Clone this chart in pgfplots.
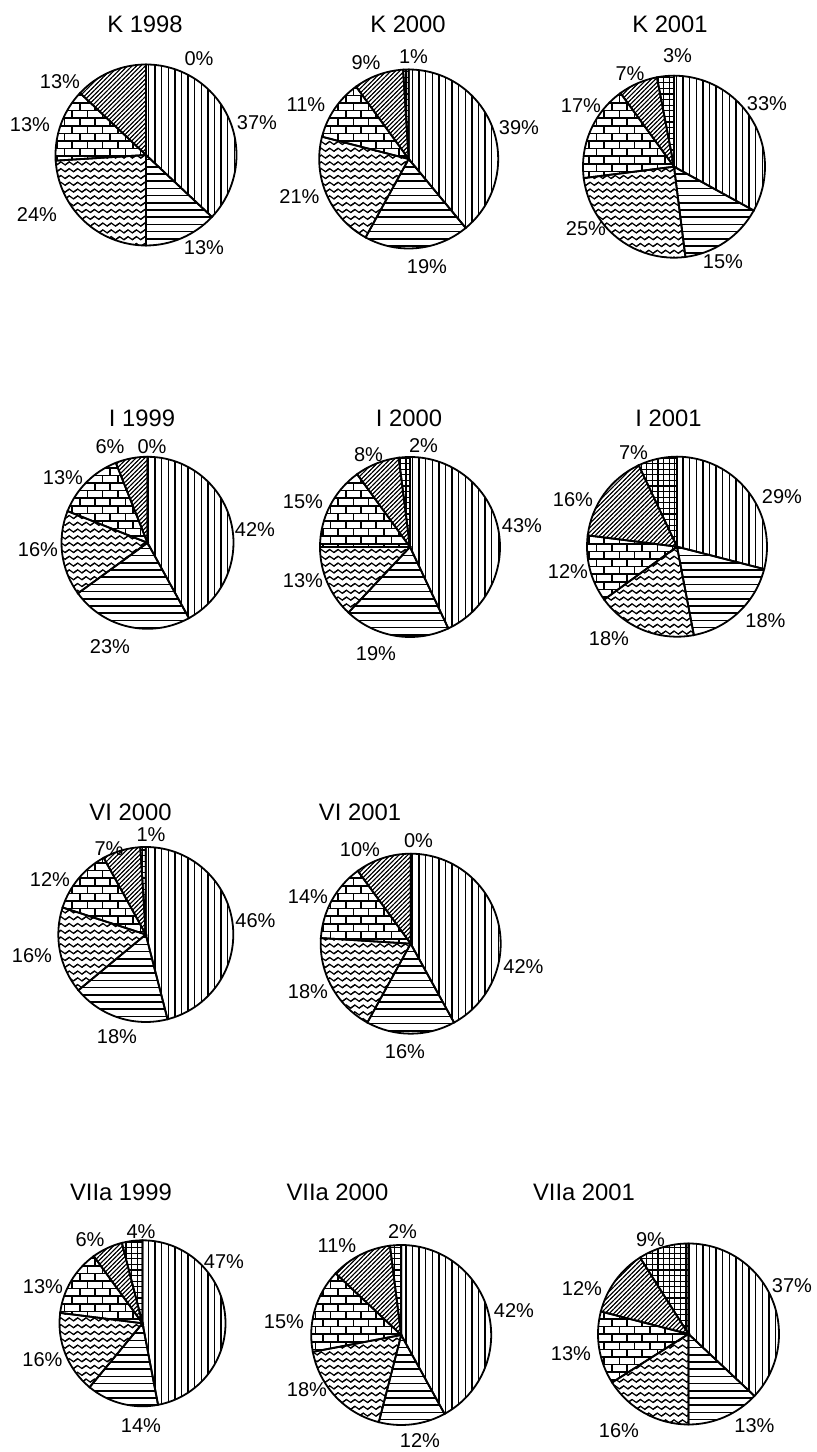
\documentclass[border=0pt]{standalone}
\usepackage{fontspec}
\setmainfont{Liberation Sans}
\usepackage{pgfplots}
\usepackage{pgfplotstable}
\pgfplotsset{compat=1.18}
\usetikzlibrary{patterns}

% ---------- patterns (bounding boxes overlap the tiles to avoid seams) ----------
\pgfdeclarepatternformonly{pv}{\pgfpoint{0pt}{-1pt}}{\pgfpoint{3.3pt}{4.3pt}}{\pgfpoint{3.3pt}{3.3pt}}{%
  \pgfsetlinewidth{0.75pt}\pgfpathmoveto{\pgfpoint{1.65pt}{-1pt}}\pgfpathlineto{\pgfpoint{1.65pt}{4.3pt}}\pgfusepath{stroke}}
\pgfdeclarepatternformonly{ph}{\pgfpoint{-1pt}{0pt}}{\pgfpoint{4.6pt}{3.6pt}}{\pgfpoint{3.6pt}{3.6pt}}{%
  \pgfsetlinewidth{0.8pt}\pgfpathmoveto{\pgfpoint{-1pt}{1.8pt}}\pgfpathlineto{\pgfpoint{4.6pt}{1.8pt}}\pgfusepath{stroke}}
\pgfdeclarepatternformonly{pw}{\pgfpoint{-1.05pt}{0pt}}{\pgfpoint{5.25pt}{3.4pt}}{\pgfpoint{4.2pt}{3.4pt}}{%
  \pgfsetlinewidth{0.6pt}%
  \pgfpathmoveto{\pgfpoint{-4.2pt}{1.7pt}}%
  \pgfpathsine{\pgfpoint{1.05pt}{0.75pt}}\pgfpathcosine{\pgfpoint{1.05pt}{-0.75pt}}%
  \pgfpathsine{\pgfpoint{1.05pt}{-0.75pt}}\pgfpathcosine{\pgfpoint{1.05pt}{0.75pt}}%
  \pgfpathsine{\pgfpoint{1.05pt}{0.75pt}}\pgfpathcosine{\pgfpoint{1.05pt}{-0.75pt}}%
  \pgfpathsine{\pgfpoint{1.05pt}{-0.75pt}}\pgfpathcosine{\pgfpoint{1.05pt}{0.75pt}}%
  \pgfpathsine{\pgfpoint{1.05pt}{0.75pt}}\pgfpathcosine{\pgfpoint{1.05pt}{-0.75pt}}%
  \pgfpathsine{\pgfpoint{1.05pt}{-0.75pt}}\pgfpathcosine{\pgfpoint{1.05pt}{0.75pt}}%
  \pgfusepath{stroke}}
\pgfdeclarepatternformonly{pb}{\pgfpoint{-1pt}{-1pt}}{\pgfpoint{8.6pt}{8.6pt}}{\pgfpoint{7.6pt}{7.6pt}}{%
  \pgfsetlinewidth{0.8pt}%
  \pgfpathmoveto{\pgfpoint{-1pt}{1.9pt}}\pgfpathlineto{\pgfpoint{8.6pt}{1.9pt}}%
  \pgfpathmoveto{\pgfpoint{-1pt}{5.7pt}}\pgfpathlineto{\pgfpoint{8.6pt}{5.7pt}}%
  \pgfpathmoveto{\pgfpoint{1.9pt}{1.9pt}}\pgfpathlineto{\pgfpoint{1.9pt}{5.7pt}}%
  \pgfpathmoveto{\pgfpoint{5.7pt}{5.7pt}}\pgfpathlineto{\pgfpoint{5.7pt}{9.5pt}}%
  \pgfpathmoveto{\pgfpoint{5.7pt}{-1.9pt}}\pgfpathlineto{\pgfpoint{5.7pt}{1.9pt}}%
  \pgfusepath{stroke}}
\pgfdeclarepatternformonly{pd}{\pgfpoint{-1pt}{-1pt}}{\pgfpoint{3.2pt}{3.2pt}}{\pgfpoint{2.2pt}{2.2pt}}{%
  \pgfsetlinewidth{0.45pt}\pgfpathmoveto{\pgfpoint{-1pt}{-1pt}}\pgfpathlineto{\pgfpoint{3.2pt}{3.2pt}}\pgfusepath{stroke}}
\pgfdeclarepatternformonly{pg}{\pgfpoint{-1pt}{-1pt}}{\pgfpoint{3.8pt}{3.8pt}}{\pgfpoint{2.8pt}{2.8pt}}{%
  \pgfsetlinewidth{0.6pt}%
  \pgfpathmoveto{\pgfpoint{1.4pt}{-1pt}}\pgfpathlineto{\pgfpoint{1.4pt}{3.8pt}}%
  \pgfpathmoveto{\pgfpoint{-1pt}{1.4pt}}\pgfpathlineto{\pgfpoint{3.8pt}{1.4pt}}%
  \pgfusepath{stroke}}

\newcommand{\lbl}{\fontsize{10}{12}\selectfont}
\newcommand{\ttl}{\fontsize{11.9}{14}\selectfont}

% ---------- data: value, label x, label y (pixels from top-left) ----------
\pgfplotstableread{
v lx ly
37 257 123
13 204 248
24 37 215
13 30 125
13 60 82
0 199 59
}\tabKa
\pgfplotstableread{
v lx ly
39 519 128
19 427 267
21 299.5 197
11 306 105
9 366 63
1 413.5 57
}\tabKb
\pgfplotstableread{
v lx ly
33 767 104
15 723 262
25 586 229
17 581 105.5
7 630 74
3 677.5 56
}\tabKc
\pgfplotstableread{
v lx ly
42 255 530
23 110 647
16 38 550
13 63 478
6 110 447
0 152 447
}\tabIa
\pgfplotstableread{
v lx ly
43 522 526
19 376 654
13 303 581
15 303 502
8 368.5 455
2 423.5 446
}\tabIb
\pgfplotstableread{
v lx ly
29 782 497
18 765.5 621
18 609 639
12 568 572
16 573 500
7 633.5 453
}\tabIc
\pgfplotstableread{
v lx ly
46 255.5 921
18 117 1037
16 32 956
12 50 880
7 109 849
1 151 835
}\tabVIa
\pgfplotstableread{
v lx ly
42 523.5 967
16 405 1052
18 308 992
14 308 897
10 360 850
0 418.5 841
}\tabVIb
\pgfplotstableread{
v lx ly
47 224 1262
14 141 1426
16 42.5 1360
13 43 1287
6 90 1240
4 141 1232
}\tabVIIa
\pgfplotstableread{
v lx ly
42 514 1311
12 420 1441
18 307 1390
15 284 1322
11 337 1246
2 402.5 1232
}\tabVIIb
\pgfplotstableread{
v lx ly
37 792 1285.5
13 754.5 1426
16 619 1431
13 571 1354
12 582 1288.5
9 650.5 1240
}\tabVIIc

% #1 table, #2 cx, #3 cy (px from top), #4 radius px, #5 title, #6 title x, #7 title y
\newcommand{\pie}[7]{%
  \xdef\cum{0}%
  \pgfmathsetmacro\yy{1452-#3}%
  \pgfmathsetmacro\rr{#4*0.5}%
  \foreach \i in {0,...,5}{%
    \pgfplotstablegetelem{\i}{v}\of#1\let\v\pgfplotsretval
    \pgfplotstablegetelem{\i}{lx}\of#1\let\lx\pgfplotsretval
    \pgfplotstablegetelem{\i}{ly}\of#1\let\ly\pgfplotsretval
    \pgfmathsetmacro\a{90-3.6*\cum}%
    \pgfmathsetmacro\b{90-3.6*(\cum+\v)}%
    \pgfmathsetmacro\newcum{\cum+\v}\xdef\cum{\newcum}%
    \pgfmathsetmacro\lyy{1452-\ly}%
    \edef\pat{\ifcase\i pv\or ph\or pw\or pb\or pd\or pg\fi}%
    \edef\tmp{\noexpand\filldraw[line width=0.9pt,pattern=\pat] (axis cs:#2,\yy) -- ++(\a:\rr pt) arc[start angle=\a,end angle=\b,radius=\rr pt] -- cycle;
      \noexpand\node[font=\noexpand\lbl,inner sep=0pt] at (axis cs:\lx,\lyy) {\v\noexpand\%};}%
    \tmp
  }%
  \pgfmathsetmacro\tyy{1452-#7}%
  \edef\tmp{\noexpand\node[font=\noexpand\ttl,inner sep=0pt] at (axis cs:#6,\tyy) {#5};}%
  \tmp
}

\begin{document}
\begin{tikzpicture}
\begin{axis}[
  scale only axis, width=408pt, height=726pt,
  xmin=0, xmax=816, ymin=0, ymax=1452,
  enlargelimits=false, hide axis, clip=false]
  \path (axis cs:0,0) rectangle (axis cs:816,1452);
  \pie{\tabKa}{146}{155}{90.5}{K 1998}{145}{24}
  \pie{\tabKb}{408.7}{159}{89.5}{K 2000}{408}{24}
  \pie{\tabKc}{674}{166.7}{91}{K 2001}{670}{24}
  \pie{\tabIa}{147.5}{542.8}{86}{I 1999}{142}{418}
  \pie{\tabIb}{410}{547}{90}{I 2000}{409}{418}
  \pie{\tabIc}{677}{546.7}{90}{I 2001}{668.5}{418}
  \pie{\tabVIa}{145.8}{934.5}{87.5}{VI 2000}{130.5}{812}
  \pie{\tabVIb}{410.7}{943.7}{90}{VI 2001}{360}{812}
  \pie{\tabVIIa}{142.5}{1323.3}{83}{VIIa 1999}{121}{1192}
  \pie{\tabVIIb}{401.2}{1335}{90}{VIIa 2000}{337.5}{1192}
  \pie{\tabVIIc}{688.5}{1334}{90.5}{VIIa 2001}{584}{1192}
\end{axis}
\end{tikzpicture}
\end{document}
